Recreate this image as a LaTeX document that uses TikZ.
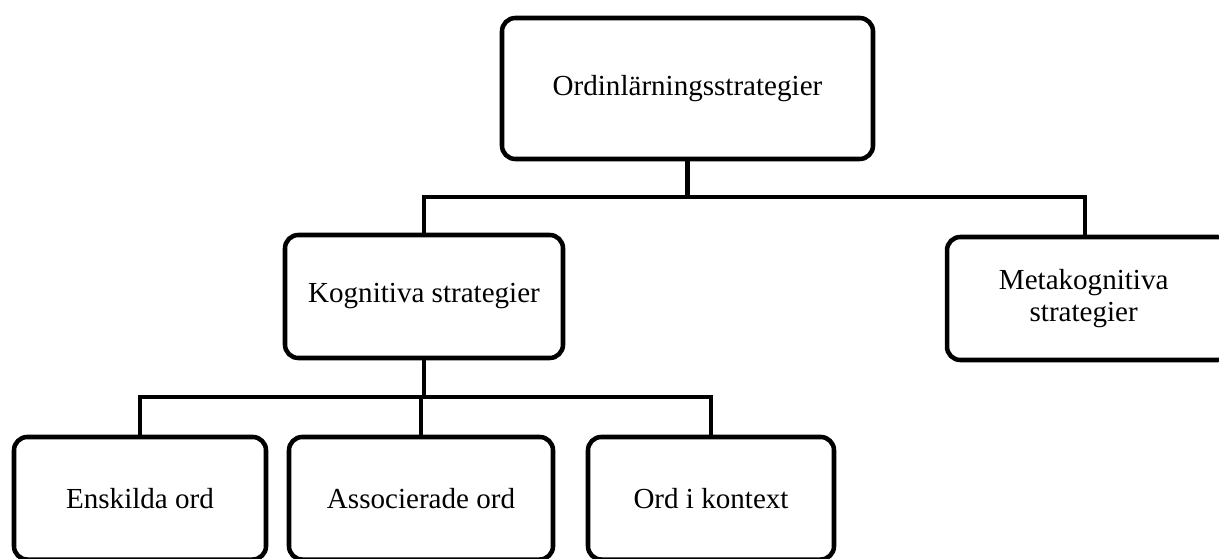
\documentclass[tikz,border=0pt]{standalone}
\usepackage{fontspec}
\setmainfont{Liberation Serif}
\begin{document}
\begin{tikzpicture}[x = 0.75pt, y = -0.75pt,
  box/.style = {draw = black, line width = 3.4pt, rounded corners = 10pt, align = center,
    font = \fontsize{21.8}{24.5}\selectfont},
  link/.style = {draw = black, line width = 3.4pt}]
\useasboundingbox (0,0) rectangle (1219,559);
\node[box, minimum width = 278.25pt, minimum height = 105.75pt] (top) at (687.5,88.5) {Ordinlärningsstrategier};
\node[box, minimum width = 208.5pt, minimum height = 92.25pt] (kog) at (424,296.5) {Kognitiva strategier};
\node[box, minimum width = 213pt, minimum height = 92.25pt, text width = 190pt] (meta) at (1089,298.5) {\hspace*{-8pt}Metakognitiva\\\hspace*{-8pt}strategier};
\node[box, minimum width = 189pt, minimum height = 91.9pt] (ensk) at (140,498.25) {Enskilda ord};
\node[box, minimum width = 198pt, minimum height = 91.9pt] (assoc) at (421,498.25) {Associerade ord};
\node[box, minimum width = 184.5pt, minimum height = 91.9pt] (kont) at (711,498.25) {Ord i kontext};
\coordinate (j1) at (687.5,197);
\coordinate (j2) at (424,397);
\coordinate (m1) at (1085,237);
\draw[link] (top.south) -- (j1);
\draw[link] (j1) -| (kog.north);
\draw[link] (j1) -| (m1);
\draw[link] (kog.south) -- (j2);
\draw[link] (j2) -| (ensk.north);
\draw[link] (j2) -| (assoc.north);
\draw[link] (j2) -| (kont.north);
\end{tikzpicture}
\end{document}
